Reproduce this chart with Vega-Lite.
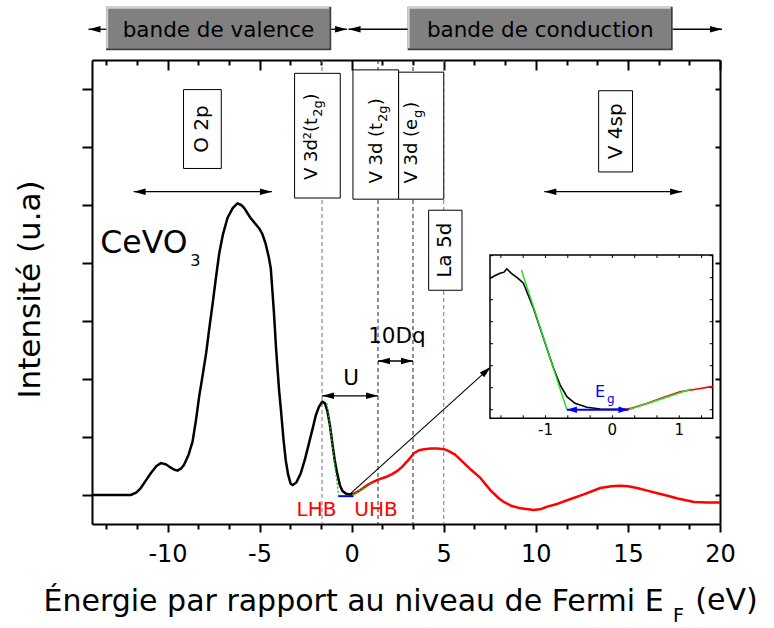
{
  "$schema": "https://vega.github.io/schema/vega-lite/v6.json",
  "width": 628,
  "height": 464,
  "autosize": {"type": "none"},
  "padding": {"left": 92, "top": 60, "right": 54, "bottom": 104},
  "background": "white",
  "config": {
    "font": "DejaVu Sans",
    "view": {"stroke": null},
    "axis": {"grid": false, "domainColor": "black", "tickColor": "black", "labelColor": "black", "titleColor": "black", "titleFontWeight": "normal"}
  },
  "datasets": {
    "spectre": [
      {"E": -14.1, "I": 0, "etat": "occupe"},
      {"E": -12.0, "I": 0, "etat": "occupe"},
      {"E": -11.7, "I": 0.04, "etat": "occupe"},
      {"E": -11.45, "I": 0.12, "etat": "occupe"},
      {"E": -11.2, "I": 0.24, "etat": "occupe"},
      {"E": -10.9, "I": 0.38, "etat": "occupe"},
      {"E": -10.6, "I": 0.5, "etat": "occupe"},
      {"E": -10.36, "I": 0.55, "etat": "occupe"},
      {"E": -10.1, "I": 0.53, "etat": "occupe"},
      {"E": -9.91, "I": 0.49, "etat": "occupe"},
      {"E": -9.65, "I": 0.44, "etat": "occupe"},
      {"E": -9.46, "I": 0.42, "etat": "occupe"},
      {"E": -9.25, "I": 0.46, "etat": "occupe"},
      {"E": -9.1, "I": 0.52, "etat": "occupe"},
      {"E": -8.85, "I": 0.7, "etat": "occupe"},
      {"E": -8.64, "I": 0.92, "etat": "occupe"},
      {"E": -8.45, "I": 1.3, "etat": "occupe"},
      {"E": -8.28, "I": 1.7, "etat": "occupe"},
      {"E": -8.1, "I": 2.05, "etat": "occupe"},
      {"E": -7.9, "I": 2.45, "etat": "occupe"},
      {"E": -7.74, "I": 2.85, "etat": "occupe"},
      {"E": -7.55, "I": 3.3, "etat": "occupe"},
      {"E": -7.38, "I": 3.72, "etat": "occupe"},
      {"E": -7.2, "I": 4.15, "etat": "occupe"},
      {"E": -7.0, "I": 4.48, "etat": "occupe"},
      {"E": -6.74, "I": 4.78, "etat": "occupe"},
      {"E": -6.45, "I": 4.95, "etat": "occupe"},
      {"E": -6.2, "I": 5.03, "etat": "occupe"},
      {"E": -6.0, "I": 5.0, "etat": "occupe"},
      {"E": -5.84, "I": 4.95, "etat": "occupe"},
      {"E": -5.5, "I": 4.78, "etat": "occupe"},
      {"E": -5.03, "I": 4.6, "etat": "occupe"},
      {"E": -4.85, "I": 4.5, "etat": "occupe"},
      {"E": -4.67, "I": 4.33, "etat": "occupe"},
      {"E": -4.5, "I": 4.1, "etat": "occupe"},
      {"E": -4.39, "I": 3.9, "etat": "occupe"},
      {"E": -4.3, "I": 3.5, "etat": "occupe"},
      {"E": -4.22, "I": 3.14, "etat": "occupe"},
      {"E": -4.1, "I": 2.5, "etat": "occupe"},
      {"E": -3.94, "I": 1.8, "etat": "occupe"},
      {"E": -3.85, "I": 1.5, "etat": "occupe"},
      {"E": -3.7, "I": 0.95, "etat": "occupe"},
      {"E": -3.58, "I": 0.6, "etat": "occupe"},
      {"E": -3.45, "I": 0.35, "etat": "occupe"},
      {"E": -3.32, "I": 0.2, "etat": "occupe"},
      {"E": -3.2, "I": 0.17, "etat": "occupe"},
      {"E": -3.0, "I": 0.22, "etat": "occupe"},
      {"E": -2.77, "I": 0.37, "etat": "occupe"},
      {"E": -2.55, "I": 0.6, "etat": "occupe"},
      {"E": -2.32, "I": 0.89, "etat": "occupe"},
      {"E": -2.1, "I": 1.17, "etat": "occupe"},
      {"E": -1.95, "I": 1.37, "etat": "occupe"},
      {"E": -1.78, "I": 1.52, "etat": "occupe"},
      {"E": -1.6, "I": 1.61, "etat": "occupe"},
      {"E": -1.45, "I": 1.58, "etat": "occupe"},
      {"E": -1.32, "I": 1.45, "etat": "occupe"},
      {"E": -1.18, "I": 1.2, "etat": "occupe"},
      {"E": -1.05, "I": 0.89, "etat": "occupe"},
      {"E": -0.92, "I": 0.6, "etat": "occupe"},
      {"E": -0.78, "I": 0.36, "etat": "occupe"},
      {"E": -0.64, "I": 0.17, "etat": "occupe"},
      {"E": -0.5, "I": 0.07, "etat": "occupe"},
      {"E": -0.3, "I": 0.02, "etat": "occupe"},
      {"E": -0.1, "I": 0.01, "etat": "occupe"},
      {"E": 0.1, "I": 0.02, "etat": "occupe"},
      {"E": 0.1, "I": 0.02, "etat": "inoccupe"},
      {"E": 0.4, "I": 0.07, "etat": "inoccupe"},
      {"E": 0.85, "I": 0.17, "etat": "inoccupe"},
      {"E": 1.2, "I": 0.23, "etat": "inoccupe"},
      {"E": 1.48, "I": 0.27, "etat": "inoccupe"},
      {"E": 1.85, "I": 0.31, "etat": "inoccupe"},
      {"E": 2.2, "I": 0.36, "etat": "inoccupe"},
      {"E": 2.5, "I": 0.42, "etat": "inoccupe"},
      {"E": 2.75, "I": 0.49, "etat": "inoccupe"},
      {"E": 3.1, "I": 0.61, "etat": "inoccupe"},
      {"E": 3.38, "I": 0.72, "etat": "inoccupe"},
      {"E": 3.65, "I": 0.77, "etat": "inoccupe"},
      {"E": 3.93, "I": 0.79, "etat": "inoccupe"},
      {"E": 4.3, "I": 0.8, "etat": "inoccupe"},
      {"E": 4.65, "I": 0.8, "etat": "inoccupe"},
      {"E": 5.0, "I": 0.79, "etat": "inoccupe"},
      {"E": 5.19, "I": 0.77, "etat": "inoccupe"},
      {"E": 5.6, "I": 0.7, "etat": "inoccupe"},
      {"E": 6.1, "I": 0.55, "etat": "inoccupe"},
      {"E": 6.5, "I": 0.43, "etat": "inoccupe"},
      {"E": 7.0, "I": 0.29, "etat": "inoccupe"},
      {"E": 7.54, "I": 0.08, "etat": "inoccupe"},
      {"E": 8.0, "I": -0.06, "etat": "inoccupe"},
      {"E": 8.26, "I": -0.12, "etat": "inoccupe"},
      {"E": 8.7, "I": -0.19, "etat": "inoccupe"},
      {"E": 9.17, "I": -0.23, "etat": "inoccupe"},
      {"E": 9.89, "I": -0.26, "etat": "inoccupe"},
      {"E": 10.3, "I": -0.24, "etat": "inoccupe"},
      {"E": 10.62, "I": -0.2, "etat": "inoccupe"},
      {"E": 11.2, "I": -0.15, "etat": "inoccupe"},
      {"E": 11.7, "I": -0.09, "etat": "inoccupe"},
      {"E": 12.6, "I": 0.01, "etat": "inoccupe"},
      {"E": 13.5, "I": 0.12, "etat": "inoccupe"},
      {"E": 14.1, "I": 0.15, "etat": "inoccupe"},
      {"E": 14.6, "I": 0.16, "etat": "inoccupe"},
      {"E": 15.0, "I": 0.15, "etat": "inoccupe"},
      {"E": 15.5, "I": 0.12, "etat": "inoccupe"},
      {"E": 16.0, "I": 0.08, "etat": "inoccupe"},
      {"E": 16.6, "I": 0.03, "etat": "inoccupe"},
      {"E": 17.1, "I": -0.01, "etat": "inoccupe"},
      {"E": 17.7, "I": -0.06, "etat": "inoccupe"},
      {"E": 18.6, "I": -0.12, "etat": "inoccupe"},
      {"E": 19.3, "I": -0.13, "etat": "inoccupe"},
      {"E": 20.0, "I": -0.13, "etat": "inoccupe"}
    ],
    "zoom": [
      {"E": -1.83, "I": 5.97, "etat": "occupe"},
      {"E": -1.76, "I": 6.09, "etat": "occupe"},
      {"E": -1.68, "I": 6.2, "etat": "occupe"},
      {"E": -1.62, "I": 6.25, "etat": "occupe"},
      {"E": -1.58, "I": 6.4, "etat": "occupe"},
      {"E": -1.51, "I": 6.2, "etat": "occupe"},
      {"E": -1.41, "I": 5.97, "etat": "occupe"},
      {"E": -1.33, "I": 5.75, "etat": "occupe"},
      {"E": -1.26, "I": 5.21, "etat": "occupe"},
      {"E": -1.18, "I": 4.61, "etat": "occupe"},
      {"E": -1.08, "I": 3.7, "etat": "occupe"},
      {"E": -0.98, "I": 2.79, "etat": "occupe"},
      {"E": -0.88, "I": 1.88, "etat": "occupe"},
      {"E": -0.78, "I": 1.12, "etat": "occupe"},
      {"E": -0.68, "I": 0.59, "etat": "occupe"},
      {"E": -0.56, "I": 0.29, "etat": "occupe"},
      {"E": -0.38, "I": 0.11, "etat": "occupe"},
      {"E": -0.18, "I": 0.03, "etat": "occupe"},
      {"E": 0.0, "I": 0.02, "etat": "occupe"},
      {"E": 0.2, "I": 0.02, "etat": "occupe"},
      {"E": 0.2, "I": 0.02, "etat": "inoccupe"},
      {"E": 0.27, "I": 0.06, "etat": "inoccupe"},
      {"E": 0.52, "I": 0.29, "etat": "inoccupe"},
      {"E": 0.76, "I": 0.55, "etat": "inoccupe"},
      {"E": 1.01, "I": 0.82, "etat": "inoccupe"},
      {"E": 1.27, "I": 0.94, "etat": "inoccupe"},
      {"E": 1.5, "I": 1.06, "etat": "inoccupe"}
    ],
    "cadre_zoom": [
      {"E1": -1.83, "E2": 1.5, "I1": -0.39, "I2": 7.03}
    ],
    "graduations_zoom_E": [
      {"E": -1.6667}, {"E": -1.3333}, {"E": -1}, {"E": -0.6667}, {"E": -0.3333},
      {"E": 0}, {"E": 0.3333}, {"E": 0.6667}, {"E": 1}, {"E": 1.3333}
    ],
    "graduations_zoom_I": [
      {"I": 0}, {"I": 1}, {"I": 2}, {"I": 3}, {"I": 4}, {"I": 5}, {"I": 6}, {"I": 7}
    ],
    "etiquettes_zoom": [
      {"E": -1, "etiquette": "-1"},
      {"E": 0, "etiquette": "0"},
      {"E": 1, "etiquette": "1"}
    ],
    "reperes": [
      {"E": -1.61, "ton": "clair"},
      {"E": 1.43, "ton": "fonce"},
      {"E": 3.33, "ton": "fonce"},
      {"E": 5.0, "ton": "clair"}
    ],
    "bandes": [
      {"bande": "valence", "E1": -13.33, "E2": -1.11, "I1": 7.67, "I2": 8.42},
      {"bande": "conduction", "E1": 3.04, "E2": 17.43, "I1": 7.67, "I2": 8.42}
    ],
    "cadres": [
      {"niveau": "O 2p", "E1": -9.13, "E2": -7.08, "I1": 5.63, "I2": 6.99},
      {"niveau": "V 3d2 t2g", "E1": -3.1, "E2": -0.62, "I1": 5.12, "I2": 7.27},
      {"niveau": "V 3d t2g", "E1": 0.07, "E2": 2.55, "I1": 5.1, "I2": 7.33},
      {"niveau": "V 3d eg", "E1": 2.55, "E2": 5.0, "I1": 5.1, "I2": 7.29},
      {"niveau": "La 5d", "E1": 4.18, "E2": 5.99, "I1": 3.53, "I2": 4.91},
      {"niveau": "V 4sp", "E1": 13.41, "E2": 15.25, "I1": 5.57, "I2": 6.97}
    ],
    "fleches": [
      {"E1": -11.84, "E2": -4.33, "I": 5.23},
      {"E1": 10.46, "E2": 17.94, "I": 5.23},
      {"E1": -1.61, "E2": 1.43, "I": 1.71},
      {"E1": 1.43, "E2": 3.33, "I": 2.31},
      {"E1": -14.29, "E2": -13.33, "I": 8.03},
      {"E1": -1.11, "E2": -0.25, "I": 8.03},
      {"E1": -0.17, "E2": 3.04, "I": 8.03},
      {"E1": 17.43, "E2": 20.11, "I": 8.03}
    ],
    "pointes": [
      {"E": -11.84, "I": 5.23, "sens": "gauche"},
      {"E": 10.46, "I": 5.23, "sens": "gauche"},
      {"E": -1.61, "I": 1.71, "sens": "gauche"},
      {"E": 1.43, "I": 2.31, "sens": "gauche"},
      {"E": -14.29, "I": 8.03, "sens": "gauche"},
      {"E": -0.17, "I": 8.03, "sens": "gauche"},
      {"E": -4.33, "I": 5.23, "sens": "droite"},
      {"E": 17.94, "I": 5.23, "sens": "droite"},
      {"E": 1.43, "I": 1.71, "sens": "droite"},
      {"E": 3.33, "I": 2.31, "sens": "droite"},
      {"E": -0.25, "I": 8.03, "sens": "droite"},
      {"E": 20.11, "I": 8.03, "sens": "droite"},
      {"E": 7.56, "I": 2.21, "sens": "diagonale"}
    ],
    "renvoi": [
      {"E1": -0.11, "I1": 0.01, "E2": 7.56, "I2": 2.21}
    ],
    "tangentes": [
      {"E": -1.34, "I": 1.58, "seg": "a"},
      {"E": -0.71, "I": 0.0, "seg": "a"},
      {"E": 0.02, "I": 0.0, "seg": "b"},
      {"E": 1.19, "I": 0.22, "seg": "b"}
    ],
    "tangentes_zoom": [
      {"E": -1.36, "I": 6.35, "seg": "a"},
      {"E": -0.68, "I": 0.0, "seg": "a"},
      {"E": 0.24, "I": 0.0, "seg": "b"},
      {"E": 1.18, "I": 0.94, "seg": "b"}
    ],
    "gap": [
      {"E1": -0.68, "E2": 0.24, "I": 0.0}
    ],
    "gap_principal": [
      {"E1": -0.73, "E2": 0.1, "I": -0.02}
    ],
    "pointes_gap": [
      {"E": -0.68, "I": 0.0, "sens": "gauche"},
      {"E": 0.24, "I": 0.0, "sens": "droite"}
    ],
    "textes": [
      {"texte": "U", "E": -0.03, "I": 1.9, "style": "annotation"},
      {"texte": "10Dq", "E": 2.46, "I": 2.62, "style": "annotation"},
      {"texte": "bande de valence", "E": -7.23, "I": 7.9, "style": "annotation"},
      {"texte": "bande de conduction", "E": 10.24, "I": 7.9, "style": "annotation"},
      {"texte": "LHB", "E": -1.91, "I": -0.37, "style": "hubbard"},
      {"texte": "UHB", "E": 1.32, "I": -0.37, "style": "hubbard"},
      {"texte": "CeVO", "E": -13.65, "I": 4.17, "style": "compose"},
      {"texte": "3", "E": -8.76, "I": 3.95, "style": "indice_compose"},
      {"texte": "F", "E": 17.45, "I": -2.19, "style": "indice_axe"},
      {"texte": "(eV)", "E": 18.66, "I": -1.98, "style": "unite_axe"},
      {"texte": "O 2p", "E": -8.1, "I": 6.31, "style": "orbitale"},
      {"texte": "V 4sp", "E": 14.33, "I": 6.27, "style": "orbitale"},
      {"texte": "La 5d", "E": 5.08, "I": 4.22, "style": "orbitale"},
      {"texte": "V 3d²(t", "E": -1.88, "I": 5.43, "style": "orbitale_d"},
      {"texte": "V 3d (t", "E": 1.65, "I": 5.37, "style": "orbitale_d"},
      {"texte": "V 3d (e", "E": 3.55, "I": 5.37, "style": "orbitale_d"},
      {"texte": "2g", "E": -1.88, "I": 6.52, "style": "indice_d"},
      {"texte": "2g", "E": 1.65, "I": 6.43, "style": "indice_d"},
      {"texte": "g", "E": 3.55, "I": 6.5, "style": "indice_d"},
      {"texte": ")", "E": -1.88, "I": 6.8, "style": "parenthese"},
      {"texte": ")", "E": 1.65, "I": 6.72, "style": "parenthese"},
      {"texte": ")", "E": 3.55, "I": 6.66, "style": "parenthese"}
    ],
    "textes_zoom": [
      {"texte": "E", "E": -0.26, "I": 0.59, "style": "gap"},
      {"texte": "g", "E": -0.08, "I": 0.3, "style": "indice_gap"}
    ]
  },
  "layer": [
    {
      "resolve": {"axis": {"x": "independent", "y": "independent"}},
      "layer": [
        {
          "data": {"name": "reperes"},
          "transform": [{"filter": "datum.ton === 'fonce'"}],
          "mark": {"type": "rule", "color": "#222222", "strokeWidth": 1, "strokeDash": [4, 3]},
          "encoding": {
            "x": {"field": "E", "type": "quantitative",
              "axis": {"orient": "top", "values": [-10, -5, 0, 5, 10, 15, 20], "tickSize": -10, "tickWidth": 2, "domainWidth": 2, "labels": false, "title": null}}
          }
        },
        {
          "data": {"name": "reperes"},
          "transform": [{"filter": "datum.ton === 'clair'"}],
          "mark": {"type": "rule", "color": "#777777", "strokeWidth": 1, "strokeDash": [4, 3]},
          "encoding": {
            "x": {"field": "E", "type": "quantitative",
              "axis": {"orient": "top", "values": [-13.3333, -11.6667, -8.3333, -6.6667, -3.3333, -1.6667, 1.6667, 3.3333, 6.6667, 8.3333, 11.6667, 13.3333, 16.6667, 18.3333], "tickSize": -5, "tickWidth": 2, "domain": false, "labels": false, "title": null}}
          }
        },
        {
          "data": {"name": "bandes"},
          "mark": {"type": "rect", "color": "#3c3c3c"},
          "encoding": {
            "x": {"field": "E1", "type": "quantitative", "axis": null},
            "x2": {"field": "E2"},
            "y": {"field": "I2", "type": "quantitative", "axis": null},
            "y2": {"field": "I1"}
          }
        },
        {
          "data": {"name": "bandes"},
          "mark": {"type": "rect", "color": "#d2d2d2", "x2Offset": -2, "y2Offset": -2},
          "encoding": {
            "x": {"field": "E1", "type": "quantitative", "axis": null},
            "x2": {"field": "E2"},
            "y": {"field": "I2", "type": "quantitative", "axis": null},
            "y2": {"field": "I1"}
          }
        },
        {
          "data": {"name": "bandes"},
          "mark": {"type": "rect", "color": "#808080", "xOffset": 2, "yOffset": 2, "x2Offset": -2, "y2Offset": -2},
          "encoding": {
            "x": {"field": "E1", "type": "quantitative", "axis": null},
            "x2": {"field": "E2"},
            "y": {"field": "I2", "type": "quantitative", "axis": null},
            "y2": {"field": "I1"}
          }
        },
        {
          "data": {"name": "cadres"},
          "mark": {"type": "rect", "fill": "white", "stroke": "black", "strokeWidth": 1},
          "encoding": {
            "x": {"field": "E1", "type": "quantitative", "axis": null},
            "x2": {"field": "E2"},
            "y": {"field": "I2", "type": "quantitative", "axis": null},
            "y2": {"field": "I1"}
          }
        },
        {
          "data": {"name": "spectre"},
          "transform": [{"filter": "datum.etat === 'occupe'"}],
          "mark": {"type": "line", "color": "black", "strokeWidth": 2.5, "strokeJoin": "round"},
          "encoding": {
            "x": {"field": "E", "type": "quantitative",
              "scale": {"domain": [-14.1, 20], "nice": false, "zero": false},
              "axis": {"orient": "bottom", "values": [-10, -5, 0, 5, 10, 15, 20], "tickSize": 8, "tickWidth": 2, "domainWidth": 2,
                "labelFontSize": 24, "labelPadding": 10, "labelExpr": "'' + datum.value", "labelFlush": false, "labelOverlap": false,
                "title": "Énergie par rapport au niveau de Fermi E", "titleFontSize": 30, "titleAnchor": "start", "titleAlign": "left",
                "titleX": -49, "titleY": 86, "titleBaseline": "alphabetic"}},
            "y": {"field": "I", "type": "quantitative",
              "scale": {"domain": [-0.5, 7.5], "nice": false, "zero": false},
              "axis": {"orient": "left", "values": [0, 1, 2, 3, 4, 5, 6, 7], "tickSize": 10, "tickWidth": 2, "domainWidth": 2, "labels": false,
                "title": "Intensité (u.a)", "titleFontSize": 31, "titleAngle": 270, "titleAlign": "center", "titleBaseline": "bottom", "titleX": -46, "titleY": 229}}
          }
        },
        {
          "data": {"name": "spectre"},
          "transform": [{"filter": "datum.etat === 'inoccupe'"}],
          "mark": {"type": "line", "color": "#ff0000", "strokeWidth": 2.5, "strokeJoin": "round"},
          "encoding": {
            "x": {"field": "E", "type": "quantitative",
              "axis": {"orient": "bottom", "values": [-13.3333, -11.6667, -8.3333, -6.6667, -3.3333, -1.6667, 1.6667, 3.3333, 6.6667, 8.3333, 11.6667, 13.3333, 16.6667, 18.3333], "tickSize": 5, "tickWidth": 2, "domain": false, "labels": false, "title": null}},
            "y": {"field": "I", "type": "quantitative",
              "axis": {"orient": "right", "values": [0, 1, 2, 3, 4, 5, 6, 7], "tickSize": -5, "tickWidth": 2, "domainWidth": 2, "labels": false, "title": null}}
          }
        },
        {
          "data": {"name": "tangentes"},
          "mark": {"type": "line", "color": "#00cc00", "strokeWidth": 1.2, "strokeDash": [2, 2]},
          "encoding": {
            "x": {"field": "E", "type": "quantitative", "axis": null},
            "y": {"field": "I", "type": "quantitative", "axis": null},
            "detail": {"field": "seg", "type": "nominal"}
          }
        },
        {
          "data": {"name": "gap_principal"},
          "mark": {"type": "rule", "color": "#0000ff", "strokeWidth": 2},
          "encoding": {
            "x": {"field": "E1", "type": "quantitative", "axis": null},
            "x2": {"field": "E2"},
            "y": {"field": "I", "type": "quantitative", "axis": null}
          }
        },
        {
          "data": {"name": "fleches"},
          "mark": {"type": "rule", "color": "black", "strokeWidth": 1.3},
          "encoding": {
            "x": {"field": "E1", "type": "quantitative", "axis": null},
            "x2": {"field": "E2"},
            "y": {"field": "I", "type": "quantitative", "axis": null}
          }
        },
        {
          "data": {"name": "renvoi"},
          "mark": {"type": "rule", "color": "black", "strokeWidth": 1.1},
          "encoding": {
            "x": {"field": "E1", "type": "quantitative", "axis": null},
            "x2": {"field": "E2"},
            "y": {"field": "I1", "type": "quantitative", "axis": null},
            "y2": {"field": "I2"}
          }
        },
        {
          "data": {"name": "pointes"},
          "transform": [{"filter": "datum.sens === 'gauche'"}],
          "mark": {"type": "point", "shape": "M0,0L-1,-0.27L-1,0.27Z", "filled": true, "color": "black", "opacity": 1, "strokeWidth": 0, "size": 576, "angle": 180},
          "encoding": {
            "x": {"field": "E", "type": "quantitative", "axis": null},
            "y": {"field": "I", "type": "quantitative", "axis": null}
          }
        },
        {
          "data": {"name": "pointes"},
          "transform": [{"filter": "datum.sens === 'droite'"}],
          "mark": {"type": "point", "shape": "M0,0L-1,-0.27L-1,0.27Z", "filled": true, "color": "black", "opacity": 1, "strokeWidth": 0, "size": 576, "angle": 0},
          "encoding": {
            "x": {"field": "E", "type": "quantitative", "axis": null},
            "y": {"field": "I", "type": "quantitative", "axis": null}
          }
        },
        {
          "data": {"name": "pointes"},
          "transform": [{"filter": "datum.sens === 'diagonale'"}],
          "mark": {"type": "point", "shape": "M0,0L-1,-0.27L-1,0.27Z", "filled": true, "color": "black", "opacity": 1, "strokeWidth": 0, "size": 576, "angle": 318},
          "encoding": {
            "x": {"field": "E", "type": "quantitative", "axis": null},
            "y": {"field": "I", "type": "quantitative", "axis": null}
          }
        },
        {
          "data": {"name": "textes"},
          "transform": [{"filter": "datum.style === 'annotation'"}],
          "mark": {"type": "text", "fontSize": 21.5, "color": "black", "align": "center", "baseline": "alphabetic"},
          "encoding": {
            "x": {"field": "E", "type": "quantitative", "axis": null},
            "y": {"field": "I", "type": "quantitative", "axis": null},
            "text": {"field": "texte"}
          }
        },
        {
          "data": {"name": "textes"},
          "transform": [{"filter": "datum.style === 'hubbard'"}],
          "mark": {"type": "text", "fontSize": 20, "color": "#ff0000", "align": "center", "baseline": "alphabetic"},
          "encoding": {
            "x": {"field": "E", "type": "quantitative", "axis": null},
            "y": {"field": "I", "type": "quantitative", "axis": null},
            "text": {"field": "texte"}
          }
        },
        {
          "data": {"name": "textes"},
          "transform": [{"filter": "datum.style === 'compose'"}],
          "mark": {"type": "text", "fontSize": 31.5, "color": "black", "align": "left", "baseline": "alphabetic"},
          "encoding": {
            "x": {"field": "E", "type": "quantitative", "axis": null},
            "y": {"field": "I", "type": "quantitative", "axis": null},
            "text": {"field": "texte"}
          }
        },
        {
          "data": {"name": "textes"},
          "transform": [{"filter": "datum.style === 'indice_compose'"}],
          "mark": {"type": "text", "fontSize": 16, "color": "black", "align": "left", "baseline": "alphabetic"},
          "encoding": {
            "x": {"field": "E", "type": "quantitative", "axis": null},
            "y": {"field": "I", "type": "quantitative", "axis": null},
            "text": {"field": "texte"}
          }
        },
        {
          "data": {"name": "textes"},
          "transform": [{"filter": "datum.style === 'indice_axe'"}],
          "mark": {"type": "text", "fontSize": 19, "color": "black", "align": "left", "baseline": "alphabetic"},
          "encoding": {
            "x": {"field": "E", "type": "quantitative", "axis": null},
            "y": {"field": "I", "type": "quantitative", "axis": null},
            "text": {"field": "texte"}
          }
        },
        {
          "data": {"name": "textes"},
          "transform": [{"filter": "datum.style === 'unite_axe'"}],
          "mark": {"type": "text", "fontSize": 30, "color": "black", "align": "left", "baseline": "alphabetic"},
          "encoding": {
            "x": {"field": "E", "type": "quantitative", "axis": null},
            "y": {"field": "I", "type": "quantitative", "axis": null},
            "text": {"field": "texte"}
          }
        },
        {
          "data": {"name": "textes"},
          "transform": [{"filter": "datum.style === 'orbitale'"}],
          "mark": {"type": "text", "fontSize": 20, "color": "black", "align": "center", "baseline": "middle", "angle": 270},
          "encoding": {
            "x": {"field": "E", "type": "quantitative", "axis": null},
            "y": {"field": "I", "type": "quantitative", "axis": null},
            "text": {"field": "texte"}
          }
        },
        {
          "data": {"name": "textes"},
          "transform": [{"filter": "datum.style === 'orbitale_d'"}],
          "mark": {"type": "text", "fontSize": 18, "color": "black", "align": "left", "baseline": "alphabetic", "angle": 270},
          "encoding": {
            "x": {"field": "E", "type": "quantitative", "axis": null},
            "y": {"field": "I", "type": "quantitative", "axis": null},
            "text": {"field": "texte"}
          }
        },
        {
          "data": {"name": "textes"},
          "transform": [{"filter": "datum.style === 'indice_d'"}],
          "mark": {"type": "text", "fontSize": 13, "color": "black", "align": "left", "baseline": "alphabetic", "angle": 270, "dy": 5},
          "encoding": {
            "x": {"field": "E", "type": "quantitative", "axis": null},
            "y": {"field": "I", "type": "quantitative", "axis": null},
            "text": {"field": "texte"}
          }
        },
        {
          "data": {"name": "textes"},
          "transform": [{"filter": "datum.style === 'parenthese'"}],
          "mark": {"type": "text", "fontSize": 18, "color": "black", "align": "left", "baseline": "alphabetic", "angle": 270},
          "encoding": {
            "x": {"field": "E", "type": "quantitative", "axis": null},
            "y": {"field": "I", "type": "quantitative", "axis": null},
            "text": {"field": "texte"}
          }
        }
      ]
    },
    {
      "layer": [
        {
          "data": {"name": "cadre_zoom"},
          "mark": {"type": "rect", "fill": "white", "stroke": "black", "strokeWidth": 1.5},
          "encoding": {
            "x": {"field": "E1", "type": "quantitative",
              "scale": {"domain": [-1.83, 1.5], "range": [398, 620.7], "nice": false, "zero": false}, "axis": null},
            "x2": {"field": "E2"},
            "y": {"field": "I1", "type": "quantitative",
              "scale": {"domain": [-0.39, 7.03], "range": [358.3, 195], "nice": false, "zero": false}, "axis": null},
            "y2": {"field": "I2"}
          }
        },
        {
          "data": {"name": "graduations_zoom_E"},
          "mark": {"type": "rule", "color": "black", "strokeWidth": 1, "y2Offset": -3},
          "encoding": {
            "x": {"field": "E", "type": "quantitative", "axis": null},
            "y": {"datum": -0.39, "type": "quantitative", "axis": null},
            "y2": {"datum": -0.39}
          }
        },
        {
          "data": {"name": "graduations_zoom_E"},
          "mark": {"type": "rule", "color": "black", "strokeWidth": 1, "y2Offset": 3},
          "encoding": {
            "x": {"field": "E", "type": "quantitative", "axis": null},
            "y": {"datum": 7.03, "type": "quantitative", "axis": null},
            "y2": {"datum": 7.03}
          }
        },
        {
          "data": {"name": "graduations_zoom_I"},
          "mark": {"type": "rule", "color": "black", "strokeWidth": 1, "x2Offset": 3},
          "encoding": {
            "y": {"field": "I", "type": "quantitative", "axis": null},
            "x": {"datum": -1.83, "type": "quantitative", "axis": null},
            "x2": {"datum": -1.83}
          }
        },
        {
          "data": {"name": "graduations_zoom_I"},
          "mark": {"type": "rule", "color": "black", "strokeWidth": 1, "x2Offset": -3},
          "encoding": {
            "y": {"field": "I", "type": "quantitative", "axis": null},
            "x": {"datum": 1.5, "type": "quantitative", "axis": null},
            "x2": {"datum": 1.5}
          }
        },
        {
          "data": {"name": "etiquettes_zoom"},
          "mark": {"type": "text", "fontSize": 15, "color": "black", "align": "center", "baseline": "top", "dy": 5},
          "encoding": {
            "x": {"field": "E", "type": "quantitative", "axis": null},
            "y": {"datum": -0.39, "type": "quantitative", "axis": null},
            "text": {"field": "etiquette"}
          }
        },
        {
          "data": {"name": "zoom"},
          "transform": [{"filter": "datum.etat === 'occupe'"}],
          "mark": {"type": "line", "color": "black", "strokeWidth": 1.6},
          "encoding": {
            "x": {"field": "E", "type": "quantitative", "axis": null},
            "y": {"field": "I", "type": "quantitative", "axis": null}
          }
        },
        {
          "data": {"name": "zoom"},
          "transform": [{"filter": "datum.etat === 'inoccupe'"}],
          "mark": {"type": "line", "color": "#ff0000", "strokeWidth": 1.6},
          "encoding": {
            "x": {"field": "E", "type": "quantitative", "axis": null},
            "y": {"field": "I", "type": "quantitative", "axis": null}
          }
        },
        {
          "data": {"name": "tangentes_zoom"},
          "mark": {"type": "line", "color": "#22dd22", "strokeWidth": 1.4},
          "encoding": {
            "x": {"field": "E", "type": "quantitative", "axis": null},
            "y": {"field": "I", "type": "quantitative", "axis": null},
            "detail": {"field": "seg", "type": "nominal"}
          }
        },
        {
          "data": {"name": "gap"},
          "mark": {"type": "rule", "color": "#0000ff", "strokeWidth": 2},
          "encoding": {
            "x": {"field": "E1", "type": "quantitative", "axis": null},
            "x2": {"field": "E2"},
            "y": {"field": "I", "type": "quantitative", "axis": null}
          }
        },
        {
          "data": {"name": "pointes_gap"},
          "transform": [{"filter": "datum.sens === 'gauche'"}],
          "mark": {"type": "point", "shape": "M0,0L-1,-0.33L-1,0.33Z", "filled": true, "color": "#0000ff", "opacity": 1, "strokeWidth": 0, "size": 400, "angle": 180},
          "encoding": {
            "x": {"field": "E", "type": "quantitative", "axis": null},
            "y": {"field": "I", "type": "quantitative", "axis": null}
          }
        },
        {
          "data": {"name": "pointes_gap"},
          "transform": [{"filter": "datum.sens === 'droite'"}],
          "mark": {"type": "point", "shape": "M0,0L-1,-0.33L-1,0.33Z", "filled": true, "color": "#0000ff", "opacity": 1, "strokeWidth": 0, "size": 400, "angle": 0},
          "encoding": {
            "x": {"field": "E", "type": "quantitative", "axis": null},
            "y": {"field": "I", "type": "quantitative", "axis": null}
          }
        },
        {
          "data": {"name": "textes_zoom"},
          "transform": [{"filter": "datum.style === 'gap'"}],
          "mark": {"type": "text", "fontSize": 16, "color": "#0000ff", "align": "left", "baseline": "alphabetic"},
          "encoding": {
            "x": {"field": "E", "type": "quantitative", "axis": null},
            "y": {"field": "I", "type": "quantitative", "axis": null},
            "text": {"field": "texte"}
          }
        },
        {
          "data": {"name": "textes_zoom"},
          "transform": [{"filter": "datum.style === 'indice_gap'"}],
          "mark": {"type": "text", "fontSize": 12, "color": "#0000ff", "align": "left", "baseline": "alphabetic"},
          "encoding": {
            "x": {"field": "E", "type": "quantitative", "axis": null},
            "y": {"field": "I", "type": "quantitative", "axis": null},
            "text": {"field": "texte"}
          }
        }
      ]
    }
  ],
  "resolve": {"scale": {"x": "independent", "y": "independent"}}
}
